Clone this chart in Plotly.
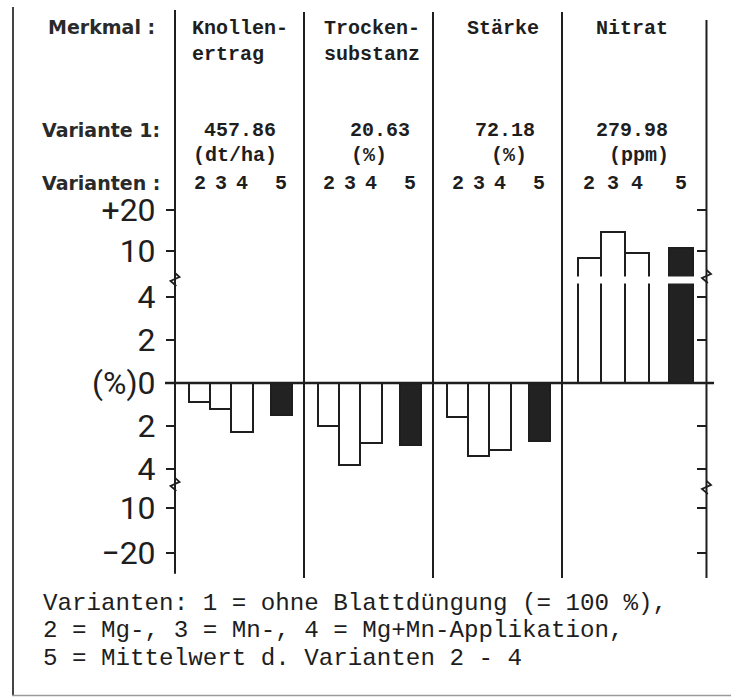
import plotly.graph_objects as go

# ---- data -------------------------------------------------------------
feature_names = ["Knollen-<br>ertrag", "Trocken-<br>substanz", "Stärke", "Nitrat"]
variant1_values = ["457.86", "20.63", "72.18", "279.98"]
variant1_units = ["(dt/ha)", "(%)", "(%)", "(ppm)"]
variant_ids = ["2", "3", "4", "5"]

# relative change vs. Variante 1 (%), variants 2, 3, 4 and mean (5)
knollenertrag = [-0.9, -1.2, -2.3, -1.5]
trockensubstanz = [-2.0, -3.8, -2.8, -2.9]
staerke = [-1.6, -3.4, -3.1, -2.7]
nitrat = [8.2, 14.6, 9.5, 10.8]
series = [knollenertrag, trockensubstanz, staerke, nitrat]

tick_values = [20, 10, 4, 2, 0, -2, -4, -10, -20]
tick_labels = ["+20", "10", "4", "2", "(%)0", "2", "4", "10", "\u221220"]

legend_lines = [
    "Varianten: 1 = ohne Blattdüngung (= 100 %),",
    "2 = Mg-, 3 = Mn-, 4 = Mg+Mn-Applikation,",
    "5 = Mittelwert d. Varianten 2 - 4",
]

# ---- broken value axis -------------------------------------------------
LINEAR_LIMIT = 5.0          # |v| up to here drawn on the linear part
UPPER_AT_10, UPPER_SLOPE = 6.14, 0.19
LOWER_AT_10, LOWER_SLOPE = 5.81, 0.21
BREAK_LEFT = (4.79, -4.74)
BREAK_RIGHT = (4.93, -4.88)


def axis_pos(v):
    if abs(v) <= LINEAR_LIMIT:
        return v
    if v > 0:
        return UPPER_AT_10 + (v - 10) * UPPER_SLOPE
    return -(LOWER_AT_10 + (-v - 10) * LOWER_SLOPE)


# ---- layout geometry ---------------------------------------------------
W, H = 731, 698
M_L, M_R, M_T, M_B = 165, 17, 10, 120
PX_PER_X, PX_PER_Y = 129.0, 21.5
X_AXIS_PX, ZERO_PX = 175, 383
X_RANGE = [(M_L - X_AXIS_PX) / PX_PER_X, (W - M_R - X_AXIS_PX) / PX_PER_X]
Y_RANGE = [(ZERO_PX - (H - M_B)) / PX_PER_Y, (ZERO_PX - M_T) / PX_PER_Y]
PLOT_W = W - M_L - M_R
PLOT_H = H - M_T - M_B

group_widths = [1.0, 1.0, 1.0, 1.12]
group_starts = [0.0, 1.0, 2.0, 3.0]
bar_fracs = [0.19, 0.355, 0.52, 0.825]
BAR_FRAC_W = 0.165
RIGHT_AXIS_X = group_starts[-1] + group_widths[-1]


def px_to_paper_x(px):
    return (px - M_L) / PLOT_W


def px_to_paper_y(py):
    return (H - M_B - py) / PLOT_H


def row_to_y(py):
    return (ZERO_PX - py) / PX_PER_Y


INK = "#1e1e1e"
MONO = "Liberation Mono, Courier New, monospace"
SANS_B = "DejaVu Sans, Arial, sans-serif"
TICK_FONT = "Roboto, Liberation Sans, sans-serif"

fig = go.Figure()

open_x, open_y, open_w = [], [], []
solid_x, solid_y, solid_w = [], [], []
label_x = []
for g, vals in enumerate(series):
    for j, v in enumerate(vals):
        xc = group_starts[g] + bar_fracs[j] * group_widths[g]
        w = BAR_FRAC_W * group_widths[g]
        label_x.append((xc, variant_ids[j]))
        if j < 3:
            open_x.append(xc); open_y.append(axis_pos(v)); open_w.append(w)
        else:
            solid_x.append(xc); solid_y.append(axis_pos(v)); solid_w.append(w)

fig.add_trace(go.Bar(x=open_x, y=open_y, width=open_w, base=0,
                     marker=dict(color="white", line=dict(color=INK, width=2)),
                     hoverinfo="skip", showlegend=False))
fig.add_trace(go.Bar(x=solid_x, y=solid_y, width=solid_w, base=0,
                     marker=dict(color="#222222", line=dict(color=INK, width=2)),
                     hoverinfo="skip", showlegend=False))
# carrier trace for the right-hand axis
fig.add_trace(go.Scatter(x=[0], y=[0], yaxis="y2", mode="markers",
                         marker=dict(opacity=0), hoverinfo="skip",
                         showlegend=False))

shapes = []
line = dict(color=INK, width=2)
# left axis and column separators
shapes.append(dict(type="line", xref="x", yref="y", x0=0, x1=0,
                   y0=Y_RANGE[0] + 0.2, y1=row_to_y(10), line=line))
for gx in group_starts[1:]:
    shapes.append(dict(type="line", xref="x", yref="y", x0=gx, x1=gx,
                       y0=Y_RANGE[0], y1=row_to_y(12), line=line))
shapes.append(dict(type="line", xref="x", yref="y", x0=RIGHT_AXIS_X,
                   x1=RIGHT_AXIS_X, y0=Y_RANGE[0], y1=row_to_y(20), line=line))
# white gap through the nitrate bars at the axis break
shapes.append(dict(type="rect", xref="x", yref="y", layer="above",
                   x0=group_starts[3] + 0.05, x1=group_starts[3] + 1.05,
                   y0=row_to_y(283.5), y1=row_to_y(276.5),
                   fillcolor="white", line=dict(width=0)))
# zero line
shapes.append(dict(type="line", xref="x", yref="y", layer="above",
                   x0=X_RANGE[0], x1=X_RANGE[1], y0=0, y1=0,
                   line=dict(color=INK, width=2.5)))


def zigzag(xc, yc):
    dx, dy = 4.5 / PX_PER_X, 5.0 / PX_PER_Y
    return dict(type="path", xref="x", yref="y", layer="above",
                path=(f"M {xc} {yc + 1.4 * dy} L {xc + dx} {yc + 0.6 * dy} "
                      f"L {xc - dx} {yc - 0.2 * dy} L {xc + dx * 0.3} {yc - 1.2 * dy}"),
                line=dict(color=INK, width=1.8))


for b in BREAK_LEFT:
    shapes.append(zigzag(0, b))
for b in BREAK_RIGHT:
    shapes.append(zigzag(RIGHT_AXIS_X, b))

# outer frame (left and bottom edges)
shapes.append(dict(type="line", xref="paper", yref="paper",
                   x0=px_to_paper_x(13), x1=px_to_paper_x(13),
                   y0=px_to_paper_y(7), y1=px_to_paper_y(695),
                   line=dict(color="#444444", width=2)))
shapes.append(dict(type="line", xref="paper", yref="paper",
                   x0=px_to_paper_x(12), x1=px_to_paper_x(731),
                   y0=px_to_paper_y(695.5), y1=px_to_paper_y(695.5),
                   line=dict(color="#9a9a9a", width=1.5)))

ann = []
row_labels = [("Merkmal :", 157, 27), ("Variante 1:", 162, 130),
              ("Varianten :", 162, 183)]
for text, xr, yr in row_labels:
    ann.append(dict(text=text, xref="paper", yref="paper",
                    x=px_to_paper_x(xr), y=px_to_paper_y(yr),
                    xanchor="right", yanchor="middle", showarrow=False,
                    font=dict(family=SANS_B, size=19, color="#2a2a2a",
                              weight="bold")))

mono_font = dict(family=MONO, size=20, color=INK, weight="bold")

# column headers
header_anchor = [(0.116, "left"), (1.14, "left"), (2.54, "center"),
                 (3.54, "center")]
for name, (hx, anc) in zip(feature_names, header_anchor):
    ann.append(dict(text=name, xref="x", yref="paper", x=hx,
                    y=px_to_paper_y(15), xanchor=anc, yanchor="top",
                    align="left", showarrow=False, font=mono_font))

value_x = [0.504, 1.59, 2.56, 3.54]
unit_x = [0.465, 1.50, 2.59, 3.60]
for v, u, vx, ux in zip(variant1_values, variant1_units, value_x, unit_x):
    ann.append(dict(text=v, xref="x", yref="paper", x=vx,
                    y=px_to_paper_y(130), xanchor="center", yanchor="middle",
                    showarrow=False, font=mono_font))
    ann.append(dict(text=u, xref="x", yref="paper", x=ux,
                    y=px_to_paper_y(155), xanchor="center", yanchor="middle",
                    showarrow=False, font=mono_font))

for xc, vid in label_x:
    ann.append(dict(text=vid, xref="x", yref="paper", x=xc,
                    y=px_to_paper_y(183), xanchor="center", yanchor="middle",
                    showarrow=False, font=mono_font))

# explanatory note below the chart
for i, ln in enumerate(legend_lines):
    ann.append(dict(text=ln, xref="paper", yref="paper",
                    x=px_to_paper_x(41), y=px_to_paper_y(603 + 27.5 * i),
                    xanchor="left", yanchor="middle", showarrow=False,
                    font=dict(family=MONO, size=24.2, color=INK)))

tick_pos = [axis_pos(v) for v in tick_values]

fig.update_layout(
    width=W, height=H,
    margin=dict(l=M_L, r=M_R, t=M_T, b=M_B, pad=0),
    paper_bgcolor="white", plot_bgcolor="white",
    barmode="overlay", bargap=0,
    showlegend=False,
    xaxis=dict(range=X_RANGE, visible=False, fixedrange=True),
    yaxis=dict(range=Y_RANGE, anchor="free",
               position=px_to_paper_x(X_AXIS_PX), side="left",
               showline=False, showgrid=False, zeroline=False,
               ticks="outside", ticklen=9, tickwidth=2, tickcolor=INK,
               tickvals=tick_pos, ticktext=tick_labels,
               ticklabelstandoff=4,
               tickfont=dict(family=TICK_FONT, size=32, color=INK)),
    yaxis2=dict(range=Y_RANGE, overlaying="y", anchor="free",
                position=px_to_paper_x(X_AXIS_PX + RIGHT_AXIS_X * PX_PER_X),
                side="right", showline=False, showgrid=False, zeroline=False,
                ticks="inside", ticklen=9, tickwidth=2, tickcolor=INK,
                tickvals=tick_pos, showticklabels=False),
    shapes=shapes,
    annotations=ann,
)

fig.write_html("out.html")
